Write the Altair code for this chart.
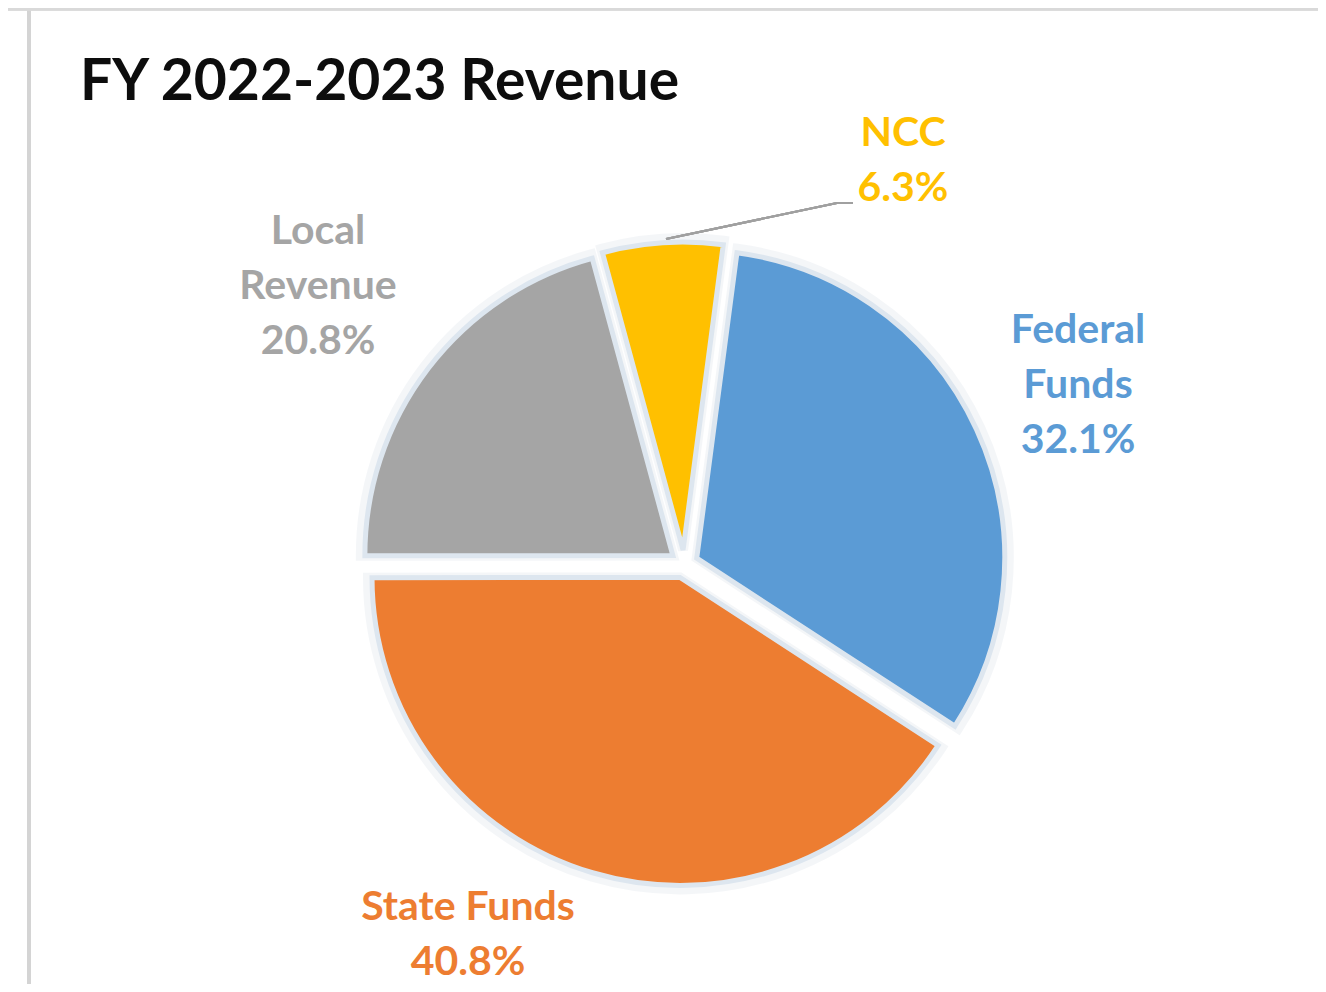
import altair as alt
import pandas as pd

# ---- data ----
categories = ["Federal Funds", "State Funds", "Local Revenue", "NCC"]
values = [32.1, 40.8, 20.8, 6.3]
label_text = ["Federal\nFunds", "State Funds", "Local\nRevenue", "NCC"]
colors = ["#5b9bd5", "#ed7d31", "#a5a5a5", "#ffc000"]
title_text = "FY 2022-2023 Revenue"

# ---- styling / layout (not data) ----
W, H = 1310, 976
CX, CY = 676, 556          # pie centre (chart px)
R = 308                    # outer radius
EXPLODE = 14               # explosion distance
ROT = 0.131                # first slice angle (radians, ~7.5 deg)
label_pos = {               # centre of first label line (chart px)
    "Federal Funds": (1070, 323),
    "State Funds": (460, 900),
    "Local Revenue": (310, 224),
    "NCC": (895, 126),
}

df = pd.DataFrame({"category": categories, "value": values,
                   "order": list(range(len(categories)))})

color_scale = alt.Scale(domain=categories, range=colors)

base = (
    alt.Chart(df)
    .transform_joinaggregate(total="sum(value)")
    .transform_window(cum="sum(value)", sort=[alt.SortField("order")],
                      frame=[None, 0])
    .transform_calculate(
        t0=f"{ROT} + 2*PI*(datum.cum - datum.value)/datum.total",
        t1=f"{ROT} + 2*PI*datum.cum/datum.total",
    )
    .transform_calculate(mid="(datum.t0 + datum.t1)/2")
    .transform_calculate(
        px=f"{CX} + {EXPLODE}*sin(datum.mid)",
        py=f"{CY} - {EXPLODE}*cos(datum.mid)",
    )
)

enc = dict(
    theta=alt.Theta("t0:Q", scale=None),
    theta2=alt.Theta2("t1:Q"),
    x=alt.X("px:Q", scale=None, axis=None),
    y=alt.Y("py:Q", scale=None, axis=None),
)

# soft shadow halo
shadow = base.mark_arc(outerRadius=R + 4, color="#e9edf2", opacity=0.6,
                       stroke="#eef1f5", strokeWidth=10).encode(**enc)

arcs = base.mark_arc(outerRadius=R, stroke="#dde6ef", strokeWidth=5,
                     strokeJoin="miter").encode(
    **enc,
    color=alt.Color("category:N", scale=color_scale, legend=None),
)

ldf = pd.DataFrame({
    "category": categories,
    "label": [f"{t}\n{v:.1f}%" for t, v in zip(label_text, values)],
    "lx": [label_pos[c][0] for c in categories],
    "ly": [label_pos[c][1] for c in categories],
})

labels = (
    alt.Chart(ldf)
    .mark_text(font="Lato", fontSize=41, fontWeight="bold", lineHeight=55,
               lineBreak="\n", align="center", baseline="middle")
    .encode(
        x=alt.X("lx:Q", scale=None, axis=None),
        y=alt.Y("ly:Q", scale=None, axis=None),
        text="label:N",
        color=alt.Color("category:N", scale=color_scale, legend=None),
    )
)

# leader line for NCC
leader1 = alt.Chart(df).mark_rule(color="#a0a0a0", strokeWidth=2).encode(
    x=alt.value(658), y=alt.value(231), x2=alt.value(829), y2=alt.value(195))
leader2 = alt.Chart(df).mark_rule(color="#a0a0a0", strokeWidth=2).encode(
    x=alt.value(829), y=alt.value(195), x2=alt.value(845), y2=alt.value(195))

title = alt.Chart(pd.DataFrame({"t": [title_text]})).mark_text(
    font="Lato", fontSize=57, fontWeight="bold", color="#0d0d0d",
    align="left", baseline="alphabetic"
).encode(x=alt.value(72), y=alt.value(92), text="t:N")

# frame borders
frame_left = alt.Chart(df).mark_rule(color="#d4d4d4", strokeWidth=4).encode(
    x=alt.value(21), y=alt.value(0), y2=alt.value(H))
frame_top = alt.Chart(df).mark_rule(color="#d9d9d9", strokeWidth=3).encode(
    x=alt.value(0), x2=alt.value(W), y=alt.value(1))

chart = (
    alt.layer(frame_left, frame_top, shadow, arcs, leader1, leader2, labels, title)
    .properties(width=W, height=H, autosize=alt.AutoSizeParams(type="none"),
                padding=0, background="white")
    .configure_view(stroke=None)
)

chart.save("out.html", embed_options={"renderer": "svg", "actions": False})
